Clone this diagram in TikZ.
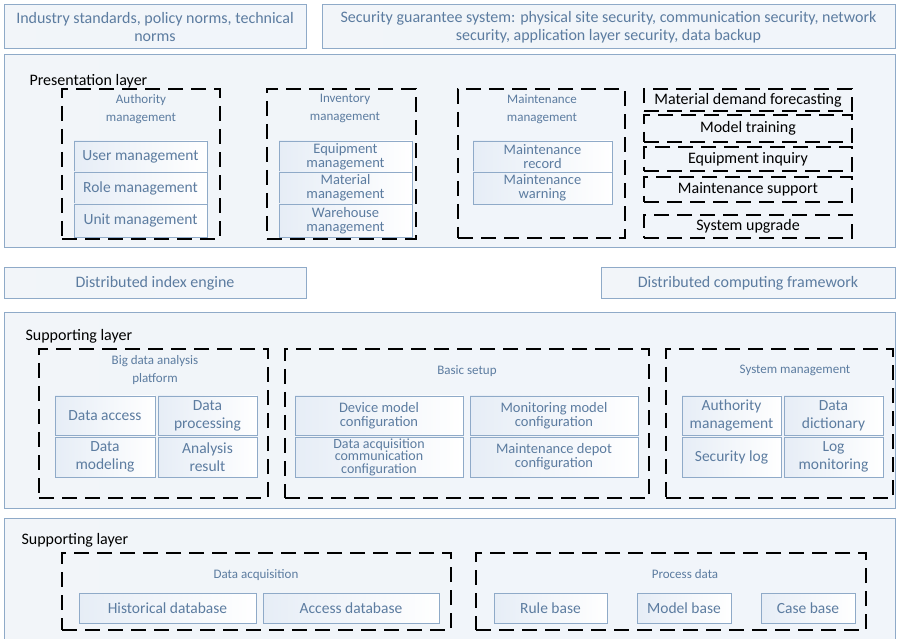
\documentclass[tikz,border=0pt]{standalone}
\usepackage{fontspec}
\setmainfont{Carlito}
\usetikzlibrary{positioning}
\definecolor{boxline}{RGB}{143,170,200}
\definecolor{boxtext}{RGB}{92,124,160}
\definecolor{layerfill}{RGB}{241,245,250}
\definecolor{cellfill}{RGB}{230,237,246}

\begin{document}
\begin{tikzpicture}[x=1pt,y=-1pt,node distance=0pt,align=center,
    layer/.style={draw=boxline,line width=1pt,left color=layerfill!80!boxline!40,right color=layerfill,anchor=north west,inner sep=0pt,outer sep=0pt},
    topbox/.style={layer,text=boxtext,font=\fontsize{16}{18}\selectfont},
    group/.style={draw=black,line width=1.8pt,dash pattern=on 15pt off 8pt,anchor=north west,inner sep=0pt,outer sep=0pt},
    item/.style={group,text=black,font=\fontsize{16}{17}\selectfont},
    cell/.style={draw=boxline,line width=0.8pt,left color=cellfill,right color=white,text=boxtext,inner sep=0pt,outer sep=0pt,anchor=north west,font=\fontsize{14.5}{14}\selectfont},
    wcell/.style={cell,font=\fontsize{15.5}{18}\selectfont},
    grouptitle/.style={text=boxtext,font=\fontsize{13}{18}\selectfont,anchor=north},
    layertitle/.style={text=black,font=\fontsize{16}{18}\selectfont,anchor=west}]
  \useasboundingbox (0,0) rectangle (898,639);

  % top row
  \node[topbox,minimum width=302pt,minimum height=44pt] (std) at (4,5) {Industry standards, policy norms, technical\\norms};
  \node[topbox,minimum width=573pt,minimum height=44pt] (secsys) at (322,5) {Security guarantee system: physical site security, communication security, network\\security, application layer security, data backup};

  % presentation layer
  \node[layer,minimum width=891pt,minimum height=193pt] (pres) at (4,55) {};
  \node[layertitle] (pres-t) at (26,81) {Presentation layer};

  \node[group,minimum width=158pt,minimum height=150pt] (auth) at (62,89) {};
  \node[grouptitle] (auth-t) at (141,91) {Authority\\management};
  \node[wcell,minimum width=133pt,minimum height=31pt] (user) at (74,141) {User management};
  \node[wcell,minimum width=133pt,minimum height=32pt,below=of user] (role) {Role management};
  \node[wcell,minimum width=133pt,minimum height=33pt,below=of role] (unit) {Unit management};

  \node[group,minimum width=149pt,minimum height=150pt] (inv) at (267,89) {};
  \node[grouptitle] (inv-t) at (345,91) {Inventory\\management};
  \node[cell,minimum width=133pt,minimum height=31pt] (equip) at (279,141) {Equipment\\management};
  \node[cell,minimum width=133pt,minimum height=32pt,below=of equip] (mater) {Material\\management};
  \node[cell,minimum width=133pt,minimum height=33pt,below=of mater] (wareh) {Warehouse\\management};

  \node[group,minimum width=167pt,minimum height=149pt] (mnt) at (458,89) {};
  \node[grouptitle] (mnt-t) at (542,91) {Maintenance\\management};
  \node[cell,minimum width=139pt,minimum height=31pt] (mrec) at (473,141) {Maintenance\\record};
  \node[cell,minimum width=139pt,minimum height=32pt,below=of mrec] (mwarn) {Maintenance\\warning};

  \node[item,minimum width=208pt,minimum height=22pt] (mdf) at (644,89) {Material demand forecasting};
  \node[item,minimum width=208pt,minimum height=27pt] (mtrain) at (644,115) {Model training};
  \node[item,minimum width=208pt,minimum height=24pt] (eqinq) at (644,147) {Equipment inquiry};
  \node[item,minimum width=208pt,minimum height=25pt] (msup) at (644,177) {Maintenance support};
  \node[item,minimum width=208pt,minimum height=23pt] (sysup) at (644,215) {System upgrade};

  % middle row
  \node[topbox,minimum width=302pt,minimum height=31pt] (index) at (4,268) {Distributed index engine};
  \node[topbox,minimum width=294pt,minimum height=31pt] (compute) at (601,268) {Distributed computing framework};

  % supporting layer
  \node[layer,minimum width=891pt,minimum height=195pt] (sup) at (4,313) {};
  \node[layertitle] (sup-t) at (22,336) {Supporting layer};

  \node[group,minimum width=229pt,minimum height=149pt] (bigdata) at (39,349) {};
  \node[grouptitle] (bigdata-t) at (155,352) {Big data analysis\\platform};
  \node[wcell,minimum width=100pt,minimum height=39pt] (daccess) at (55,396) {Data access};
  \node[wcell,minimum width=99pt,minimum height=39pt,right=3pt of daccess] (dproc) {Data\\processing};
  \node[wcell,minimum width=100pt,minimum height=40pt,below=2pt of daccess] (dmodel) {Data\\modeling};
  \node[wcell,minimum width=99pt,minimum height=40pt,below=2pt of dproc] (aresult) {Analysis\\result};

  \node[group,minimum width=364pt,minimum height=149pt] (basic) at (285,349) {};
  \node[grouptitle] (basic-t) at (467,362) {Basic setup};
  \node[cell,minimum width=168pt,minimum height=39pt] (devcfg) at (295,396) {Device model\\configuration};
  \node[cell,minimum width=168pt,minimum height=39pt,right=7pt of devcfg] (moncfg) {Monitoring model\\configuration};
  \node[cell,minimum width=168pt,minimum height=40pt,below=2pt of devcfg,font=\fontsize{14}{12.5}\selectfont] (daqcfg) {Data acquisition\\communication\\configuration};
  \node[cell,minimum width=168pt,minimum height=40pt,below=2pt of moncfg] (depcfg) {Maintenance depot\\configuration};

  \node[group,minimum width=227pt,minimum height=149pt] (sysman) at (666,349) {};
  \node[grouptitle] (sysman-t) at (795,362) {System management};
  \node[wcell,minimum width=99pt,minimum height=39pt] (authm) at (682,396) {Authority\\management};
  \node[wcell,minimum width=99pt,minimum height=39pt,right=3pt of authm] (ddict) {Data\\dictionary};
  \node[wcell,minimum width=99pt,minimum height=40pt,below=2pt of authm] (seclog) {Security log};
  \node[wcell,minimum width=99pt,minimum height=40pt,below=2pt of ddict] (logmon) {Log\\monitoring};

  % lower supporting layer
  \node[layer,minimum width=891pt,minimum height=130pt] (store) at (4,518) {};
  \node[layertitle] (store-t) at (18,540) {Supporting layer};

  \node[group,minimum width=389pt,minimum height=77pt] (daq) at (62,553) {};
  \node[grouptitle] (daq-t) at (256,566) {Data acquisition};
  \node[wcell,minimum width=177pt,minimum height=30pt] (hist) at (79,593) {Historical database};
  \node[wcell,minimum width=176pt,minimum height=30pt,right=7pt of hist] (accdb) {Access database};

  \node[group,minimum width=390pt,minimum height=77pt] (procd) at (476,553) {};
  \node[grouptitle] (procd-t) at (685,566) {Process data};
  \node[wcell,minimum width=113pt,minimum height=30pt] (rule) at (494,593) {Rule base};
  \node[wcell,minimum width=94pt,minimum height=30pt,right=30pt of rule] (modelb) {Model base};
  \node[wcell,minimum width=94pt,minimum height=30pt,right=30pt of modelb] (caseb) {Case base};
\end{tikzpicture}
\end{document}
